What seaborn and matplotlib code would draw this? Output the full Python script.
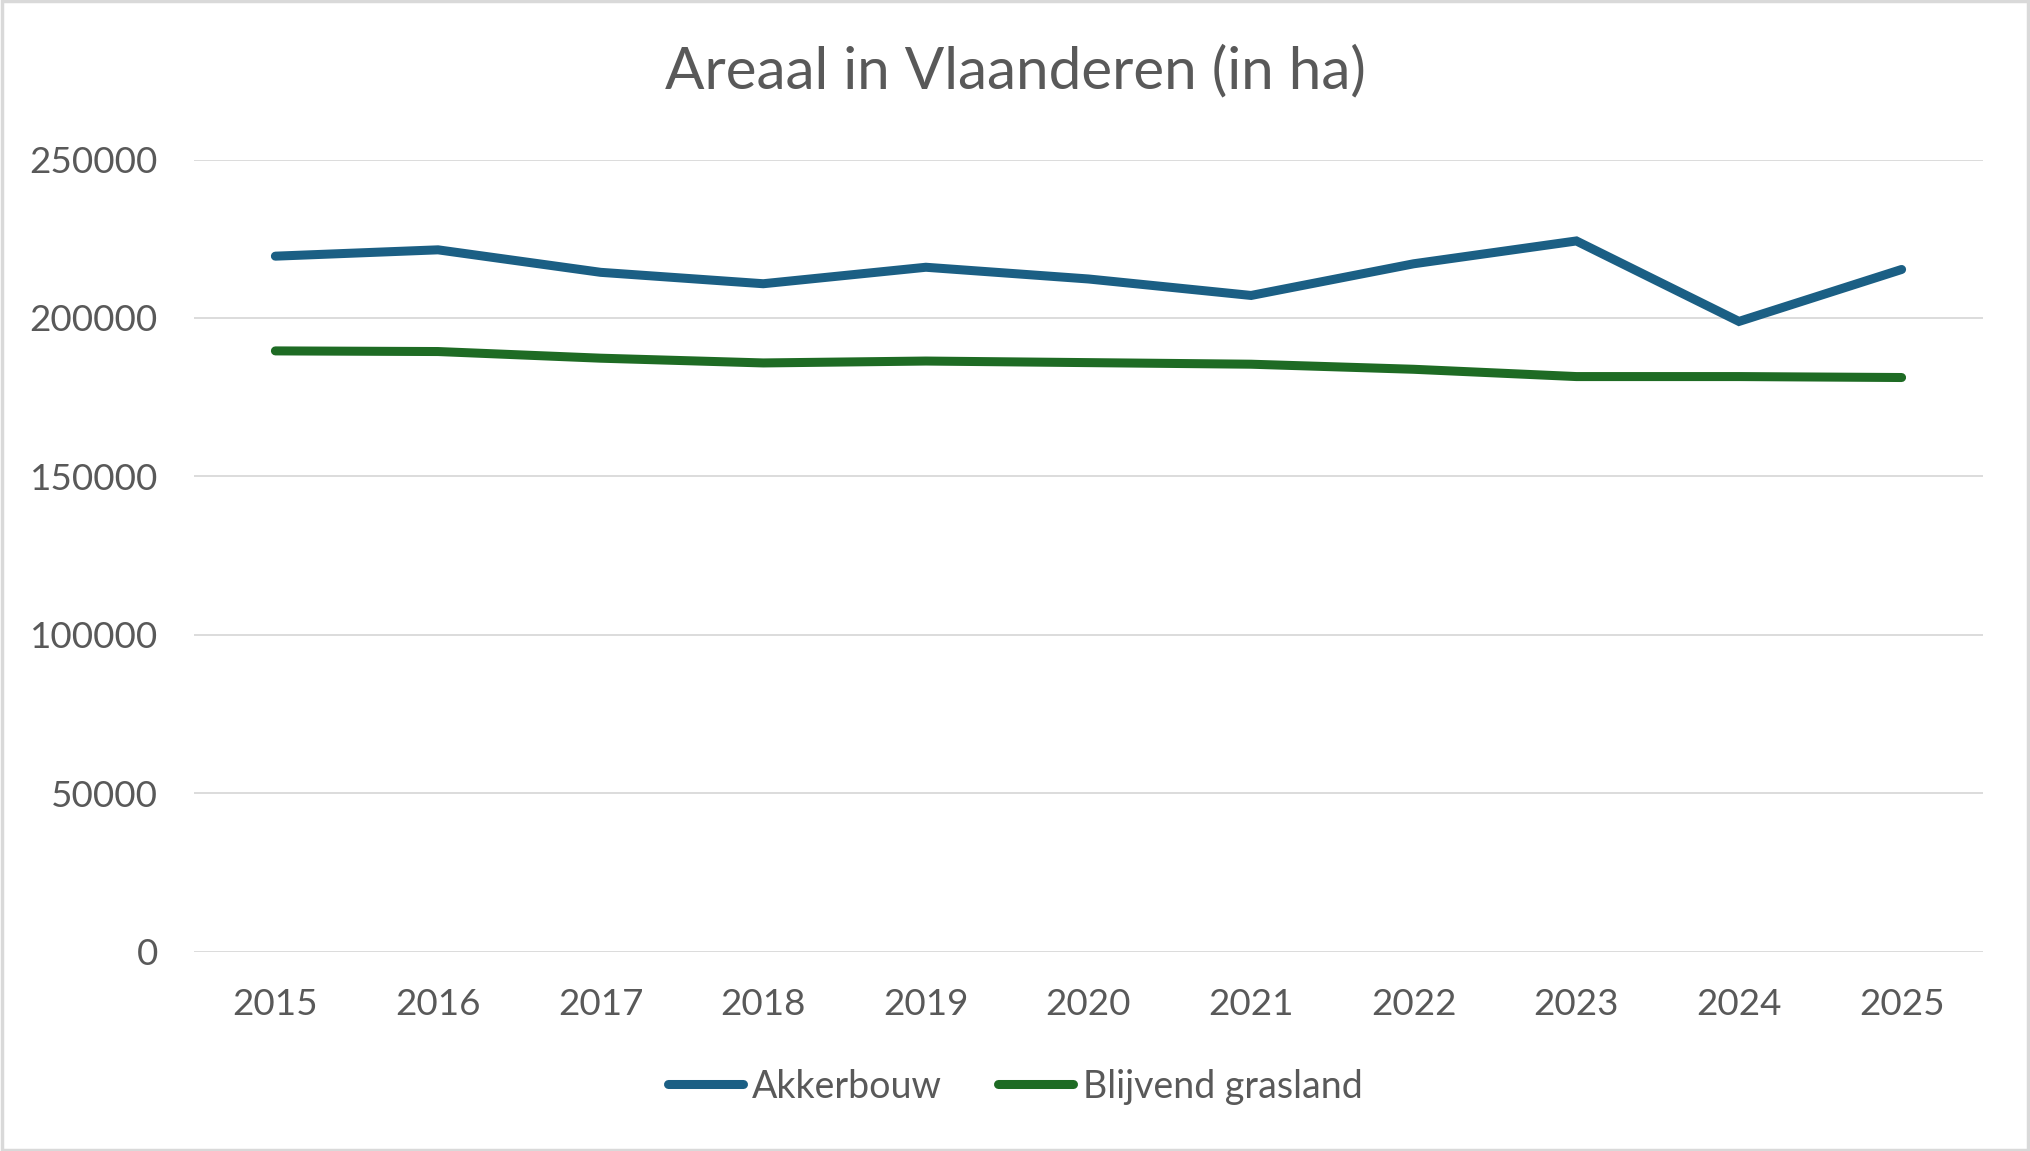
import pandas as pd
import numpy as np
import matplotlib.pyplot as plt
import seaborn as sns

jaren = [2015, 2016, 2017, 2018, 2019, 2020, 2021, 2022, 2023, 2024, 2025]
akkerbouw = [219500, 221500, 214400, 210800, 216000, 212300, 207100, 217100, 224300, 198900, 215300]
grasland = [189600, 189400, 187300, 185800, 186400, 185900, 185400, 183800, 181500, 181500, 181200]
reeksen = ['Akkerbouw', 'Blijvend grasland']
kleuren = ['#1B5F84', '#1E6B24']

df = pd.DataFrame({
    'Jaar': jaren * 2,
    'Areaal': akkerbouw + grasland,
    'Teelt': [reeksen[0]] * len(jaren) + [reeksen[1]] * len(jaren),
})

sns.set_theme(style='white')
plt.rcParams['font.family'] = ['Lato', 'DejaVu Sans']
tekst = '#595959'

fig = plt.figure(figsize=(20.3, 11.51), dpi=100)
ax = fig.add_axes([0.0956, 0.1732, 0.8812, 0.6882])

sns.lineplot(data=df, x='Jaar', y='Areaal', hue='Teelt', palette=kleuren,
             linewidth=6.5, sort=False, ax=ax, legend=False)
for lijn in ax.get_lines():
    lijn.set_solid_capstyle('round')
    lijn.set_solid_joinstyle('miter')

# Assen en raster
ax.set_xlim(jaren[0] - 0.5, jaren[-1] + 0.5)
ax.set_ylim(0, 250000)
ax.set_yticks(np.arange(0, 250001, 50000))
ax.set_xticks(jaren)
ax.set_xticklabels([str(j) for j in jaren])
ax.yaxis.grid(True, color='#D9D9D9', linewidth=1.3)
ax.set_axisbelow(True)
for s in ax.spines.values():
    s.set_visible(False)
ax.tick_params(axis='both', length=0, labelsize=26.5, labelcolor=tekst)
ax.tick_params(axis='y', pad=26)
ax.tick_params(axis='x', pad=26)
ax.set_xlabel('')
ax.set_ylabel('')

fig.suptitle('Areaal in Vlaanderen (in ha)', y=0.938, va='center', fontsize=42, color=tekst)

# Legenda onderaan
handles = [plt.Line2D([0], [0], color=k, linewidth=6.5, solid_capstyle='round') for k in kleuren]
fig.legend(handles, reeksen, loc='center', bbox_to_anchor=(0.5, 0.056), ncol=2,
           frameon=False, fontsize=27, labelcolor=tekst, handlelength=2.0,
           handletextpad=0.25, columnspacing=1.5)

# Kader rond de figuur
fig.patches.append(plt.Rectangle((0.001, 0.001), 0.998, 0.998, transform=fig.transFigure,
                                 fill=False, edgecolor='#D9D9D9', linewidth=2.5))

fig.savefig('out.png', dpi=100, facecolor='white')
